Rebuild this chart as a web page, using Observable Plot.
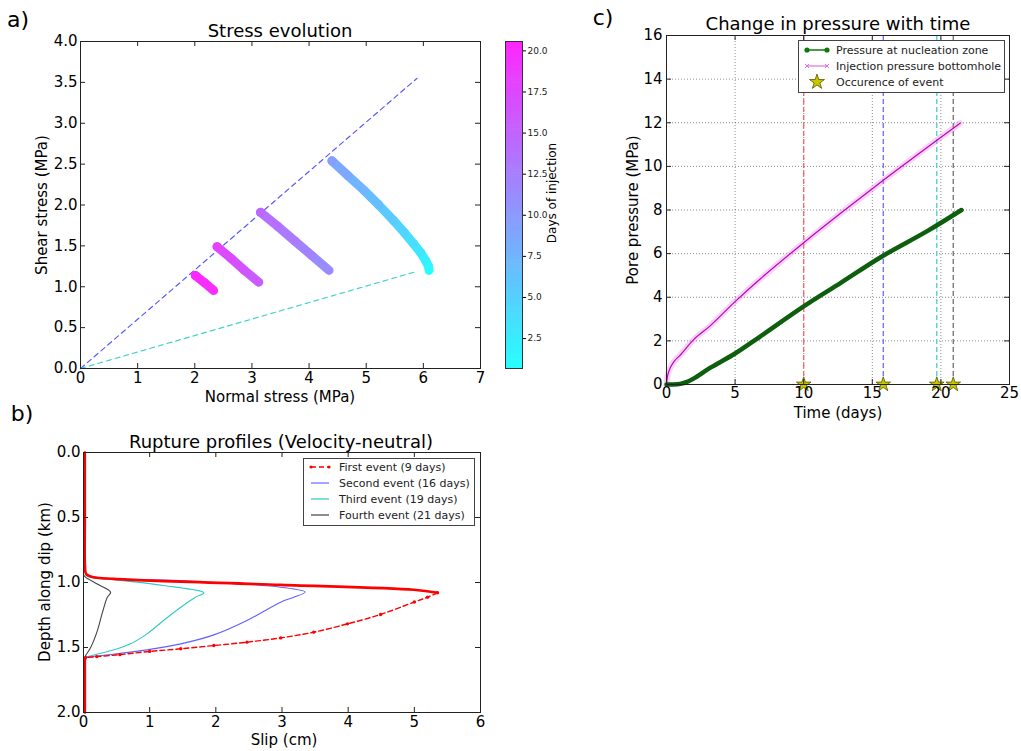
<!DOCTYPE html>
<html><head><meta charset="utf-8">
<script src="https://cdn.jsdelivr.net/npm/d3@7"></script>
<script src="https://cdn.jsdelivr.net/npm/@observablehq/plot@0.6"></script>
<style>
body{margin:0;background:#fff;font-family:"DejaVu Sans",sans-serif;}
#root{position:relative;width:1021px;height:751px;overflow:hidden;background:#fff;color:#000;}
#root svg{background:transparent !important;max-width:none !important;}
</style></head><body><div id="root"></div>
<script>
// ---------- Panel a: stress evolution ----------
const stressSeg    = ["s1","s1","s1","s1","s1","s1","s1","s1","s1","s1","s1",
                      "s2","s2","s2","s2","s2",
                      "s3","s3","s3","s3",
                      "s4","s4","s4"];
const stressNormal = [6.10,6.09,6.04,5.95,5.83,5.67,5.48,5.22,4.96,4.68,4.40,
                      4.35,4.05,3.75,3.45,3.15,
                      3.12,2.87,2.63,2.39,
                      2.33,2.17,2.01];
const stressShear  = [1.20,1.25,1.32,1.42,1.525,1.66,1.81,2.00,2.18,2.36,2.54,
                      1.20,1.38,1.56,1.74,1.91,
                      1.056,1.20,1.35,1.49,
                      0.954,1.05,1.138];
const stressDay    = [0.7,1.4,2.1,2.9,3.7,4.6,5.5,6.6,7.6,8.6,9.6,
                      11.2,12.0,12.9,13.8,14.6,
                      15.6,16.5,17.4,18.2,
                      19.7,20.15,20.6];
const peakLineNormal = [0, 5.89];   // upper dashed envelope
const peakLineShear  = [0, 3.55];
const resLineNormal  = [0, 5.85];   // lower dashed envelope
const resLineShear   = [0, 1.18];
const aXTicks = [0,1,2,3,4,5,6,7];
const aYTicks = [0,0.5,1,1.5,2,2.5,3,3.5,4];
const cbDomain = [0.68, 20.57];
const cbTicks = [2.5,5,7.5,10,12.5,15,17.5,20];

// ---------- Panel b: rupture profiles ----------
const firstDepth  = [0.0,0.5,0.90,0.935,0.955,0.972,1.018,1.056,1.079,1.113,1.15,1.246,1.318,1.382,1.426,1.459,1.485,1.51,1.53,1.555,1.57,1.578,1.6,2.0];
const firstSlip   = [0.02,0.02,0.025,0.04,0.12,0.46,2.98,4.99,5.35,5.2,5.0,4.49,3.99,3.48,2.98,2.47,1.97,1.47,1.0,0.55,0.2,0.03,0.02,0.02];
const secondDepth = [0.0,0.9,0.94,0.96,0.985,1.036,1.074,1.113,1.151,1.292,1.403,1.472,1.518,1.552,1.572,1.58,1.6,2.0];
const secondSlip  = [0.02,0.025,0.04,0.12,1.47,2.98,3.35,3.18,2.98,2.47,1.97,1.47,0.96,0.45,0.1,0.03,0.02,0.02];
const thirdDepth  = [0.94,0.96,0.979,1.023,1.079,1.113,1.19,1.292,1.395,1.472,1.518,1.552,1.572,1.58];
const thirdSlip   = [0.03,0.1,0.46,1.21,1.82,1.69,1.47,1.21,0.96,0.71,0.46,0.2,0.05,0.02];
const fourthDepth = [0.94,0.959,1.01,1.074,1.113,1.241,1.37,1.498,1.56,1.58];
const fourthSlip  = [0.0,0.03,0.2,0.41,0.36,0.28,0.21,0.11,0.035,0.02];
const eventNames  = ["First event (9 days)","Second event (16 days)","Third event (19 days)","Fourth event (21 days)"];
const bXTicks = [0,1,2,3,4,5,6];
const bYTicks = [0,0.5,1,1.5,2];

// ---------- Panel c: pressure with time ----------
const nuclTime  = [0,0.5,1.0,1.5,2.0,3.2,5.0,6.85,10.0,12.7,15.7,19.0,21.5];
const nuclPress = [0,0,0.03,0.12,0.28,0.77,1.42,2.21,3.58,4.66,5.87,7.03,8.0];
const injTime   = [0,0.1,0.3,0.6,1.0,2.0,3.2,5.0,6.85,10.0,12.9,15.8,18.7,21.4];
const injPress  = [0,0.45,0.8,1.1,1.35,2.07,2.7,3.8,4.85,6.5,7.95,9.36,10.73,11.98];
const eventDays = [10.0,15.8,19.7,20.9];
const cXTicks = [0,5,10,15,20,25];
const cYTicks = [0,2,4,6,8,10,12,14,16];
const legendC = ["Pressure at nucleation zone","Injection pressure bottomhole","Occurence of event"];

// ---------- styles ----------
const cool = ["#26ffff","#ff26ff"];
const eventColors = ["#ff0000","#4444ff","#30c8c8","#444444"];
const eventLineColors = ["#ff6060","#6a6aff","#40d0d0","#707070"];
const font = "DejaVu Sans";

const root = document.getElementById("root");
function place(el, left, top){ el.style.position="absolute"; el.style.left=left+"px"; el.style.top=top+"px"; root.appendChild(el); }
function label(txt, cx, cy, size, rot){
  const d=document.createElement("div");
  d.textContent=txt;
  d.style.cssText=`position:absolute;left:${cx}px;top:${cy}px;font-size:${size}px;line-height:1;white-space:nowrap;transform:translate(-50%,-50%)${rot?` rotate(${rot}deg)`:""};`;
  root.appendChild(d);
}
function frameTicks(xt, yt, xa, xb, ya, yb, pw, ph, len=5){
  const fx=(xb-xa)*len/pw, fy=(yb-ya)*len/ph;
  const o={stroke:"#222", strokeWidth:1};
  return [
    Plot.ruleX(xt,{x:d=>d,y1:ya,y2:ya+fy,...o}),
    Plot.ruleX(xt,{x:d=>d,y1:yb,y2:yb-fy,...o}),
    Plot.ruleY(yt,{y:d=>d,x1:xa,x2:xa+fx,...o}),
    Plot.ruleY(yt,{y:d=>d,x1:xb,x2:xb-fx,...o})
  ];
}
const baseStyle = {fontFamily:font, fontSize:"15px", color:"#000", background:"transparent"};

// ----- Panel a -----
const stressRows = stressDay.map((d,i)=>({seg:stressSeg[i], x:stressNormal[i], y:stressShear[i], day:d}));
const peakRows = peakLineNormal.map((x,i)=>({x, y:peakLineShear[i]}));
const resRows = resLineNormal.map((x,i)=>({x, y:resLineShear[i]}));
const plotA = Plot.plot({
  width:500, height:410, marginLeft:80, marginRight:20, marginTop:41, marginBottom:42,
  style: baseStyle,
  x:{domain:[0,7]}, y:{domain:[0,4]},
  color:{type:"linear", domain:cbDomain, range:cool, interpolate:"rgb"},
  marks:[
    Plot.line(peakRows,{x:"x",y:"y",stroke:"#5a5aff",strokeWidth:1.2,strokeDasharray:"5,4"}),
    Plot.line(resRows,{x:"x",y:"y",stroke:"#45d0d0",strokeWidth:1.2,strokeDasharray:"5,4"}),
    Plot.line(stressRows,{x:"x",y:"y",z:"seg",stroke:"day",strokeWidth:9,strokeLinecap:"round",strokeLinejoin:"round"}),
    ...frameTicks(aXTicks, aYTicks, 0,7, 0,4, 400,327),
    Plot.frame({stroke:"#222"}),
    Plot.axisX({ticks:aXTicks, tickSize:0, tickPadding:4, tickFormat:"d", label:null}),
    Plot.axisY({ticks:aYTicks, tickSize:0, tickPadding:3, tickFormat:".1f", label:null})
  ]
});
place(plotA, 0, 0);

// ----- Colorbar -----
const cbStep = (cbDomain[1]-cbDomain[0])/160;
const cbCells = d3.range(cbDomain[0], cbDomain[1], cbStep);
const plotCB = Plot.plot({
  width:80, height:410, marginLeft:15, marginRight:48, marginTop:41, marginBottom:42,
  style:{...baseStyle, fontSize:"9px"},
  x:{domain:[0,1], axis:null}, y:{domain:cbDomain},
  color:{type:"linear", domain:cbDomain, range:cool, interpolate:"rgb"},
  marks:[
    Plot.rect(cbCells,{x1:0,x2:1,y1:d=>d,y2:d=>Math.min(cbDomain[1],d+cbStep*1.3),fill:d=>d+cbStep/2}),
    Plot.frame({stroke:"#333"}),
    Plot.axisY({anchor:"right", ticks:cbTicks, tickSize:3, tickPadding:2, tickFormat:".1f", label:null, fill:"#222"})
  ]
});
place(plotCB, 490, 0);

// ----- Panel b -----
const mk = (depths, slips, ev) => depths.map((d,i)=>({ev, depth:d, slip:slips[i], i}));
const firstRows  = mk(firstDepth, firstSlip, eventNames[0]);
const secondRows = mk(secondDepth, secondSlip, eventNames[1]);
const thirdRows  = mk(thirdDepth, thirdSlip, eventNames[2]);
const fourthRows = mk(fourthDepth, fourthSlip, eventNames[3]);
const peakIdx = d3.maxIndex(firstSlip);
const tailIdx = firstDepth.findIndex((d,i)=>i>peakIdx && firstSlip[i]<0.05);
const firstUpper = firstRows.filter(r=>r.i<=peakIdx);
const firstReturn = firstRows.filter(r=>r.i>=peakIdx && r.i<=tailIdx);
const firstTail = firstRows.filter(r=>r.i>=tailIdx);
const plotB = Plot.plot({
  width:500, height:341, marginLeft:83, marginRight:20, marginTop:42, marginBottom:39,
  style: baseStyle,
  x:{domain:[0,6]}, y:{domain:[0,2], reverse:true},
  marks:[
    Plot.line(fourthRows,{x:"slip",y:"depth",stroke:eventColors[3],strokeWidth:1.1,curve:"catmull-rom"}),
    Plot.line(thirdRows,{x:"slip",y:"depth",stroke:eventColors[2],strokeWidth:1.1,curve:"catmull-rom"}),
    Plot.line(secondRows,{x:"slip",y:"depth",stroke:eventColors[1],strokeWidth:1.1,strokeOpacity:0.85,curve:"catmull-rom"}),
    Plot.line(firstUpper,{x:"slip",y:"depth",stroke:eventColors[0],strokeWidth:2.6,curve:"catmull-rom"}),
    Plot.line(firstTail,{x:"slip",y:"depth",stroke:eventColors[0],strokeWidth:2.6}),
    Plot.line(firstReturn,{x:"slip",y:"depth",stroke:eventColors[0],strokeWidth:1.4,strokeDasharray:"5,3",curve:"catmull-rom"}),
    Plot.dot(firstReturn,{x:"slip",y:"depth",fill:eventColors[0],r:1.7}),
    ...frameTicks(bXTicks, bYTicks, 0,6, 2,0, 397,260),
    Plot.frame({stroke:"#222"}),
    Plot.axisX({ticks:bXTicks, tickSize:0, tickPadding:4, tickFormat:"d", label:null}),
    Plot.axisY({ticks:bYTicks, tickSize:0, tickPadding:3, tickFormat:".1f", label:null})
  ]
});
place(plotB, 0, 410);

// ----- Panel c -----
const nuclRows = nuclTime.map((t,i)=>({t, p:nuclPress[i]}));
const injRows = injTime.map((t,i)=>({t, p:injPress[i]}));
const evRows = eventDays.map((d,i)=>({d, i}));
const plotC = Plot.plot({
  width:431, height:420, marginLeft:76, marginRight:12, marginTop:35, marginBottom:36,
  style: baseStyle,
  x:{domain:[0,25]}, y:{domain:[0,16]},
  marks:[
    Plot.gridX(cXTicks,{stroke:"#000",strokeOpacity:0.45,strokeDasharray:"1,2"}),
    Plot.gridY(cYTicks,{stroke:"#000",strokeOpacity:0.45,strokeDasharray:"1,2"}),
    ...evRows.map(e=>Plot.ruleX([e.d],{stroke:eventLineColors[e.i],strokeWidth:1.3,strokeDasharray:"5,3"})),
    Plot.line(injRows,{x:"t",y:"p",stroke:"#e080e0",strokeWidth:6,strokeOpacity:0.35,curve:"catmull-rom"}),
    Plot.line(injRows,{x:"t",y:"p",stroke:"#c000c0",strokeWidth:1.2,curve:"catmull-rom"}),
    Plot.line(nuclRows,{x:"t",y:"p",stroke:"#0d5f0d",strokeWidth:4.5,curve:"catmull-rom"}),
    Plot.dot(evRows,{x:"d",y:0,symbol:"star",r:4.6,fill:"#c8c800",stroke:"#555500",strokeWidth:0.8}),
    ...frameTicks(cXTicks, cYTicks, 0,25, 0,16, 343,349),
    Plot.frame({stroke:"#222"}),
    Plot.axisX({ticks:cXTicks, tickSize:0, tickPadding:3, tickFormat:"d", label:null}),
    Plot.axisY({ticks:cYTicks, tickSize:0, tickPadding:4, tickFormat:"d", label:null})
  ]
});
place(plotC, 590, 0);

// ----- Texts -----
label("a)", 18, 20, 22);
label("b)", 22, 414, 22);
label("c)", 603, 18, 22);
label("Stress evolution", 280, 31, 18);
label("Rupture profiles (Velocity-neutral)", 281, 442, 18);
label("Change in pressure with time", 838, 24, 18);
label("Normal stress (MPa)", 280, 397, 15);
label("Shear stress (MPa)", 42, 205, 15, -90);
label("Slip (cm)", 284, 740, 15);
label("Depth along dip (km)", 45, 582, 15, -90);
label("Time (days)", 838, 413, 15);
label("Pore pressure (MPa)", 633, 210, 15, -90);
label("Days of injection", 552, 193, 12, -90);

// ----- Legends -----
function legendBox(left, top, w, h, rows, rowH, firstY){
  const box=document.createElement("div");
  box.style.cssText=`position:absolute;left:${left}px;top:${top}px;width:${w}px;height:${h}px;border:1px solid #444;background:#fff;box-sizing:border-box;font-size:11px;`;
  rows.forEach((r,i)=>{
    const row=document.createElement("div");
    row.style.cssText=`position:absolute;left:0;top:${firstY+i*rowH-8}px;height:16px;display:flex;align-items:center;white-space:nowrap;`;
    row.innerHTML=`<svg width="${r.sw||30}" height="16" style="display:block;margin-left:4px">${r.swatch}</svg><span style="margin-left:${r.gap||5}px;color:#222">${r.text}</span>`;
    box.appendChild(row);
  });
  root.appendChild(box);
}
legendBox(303,458,172,68,[
  {text:eventNames[0], swatch:`<line x1="3" y1="8" x2="21" y2="8" stroke="${eventColors[0]}" stroke-width="1.5" stroke-dasharray="5,3"/><circle cx="3" cy="8" r="1.6" fill="${eventColors[0]}"/><circle cx="21" cy="8" r="1.6" fill="${eventColors[0]}"/>`},
  {text:eventNames[1], swatch:`<line x1="3" y1="8" x2="21" y2="8" stroke="${eventColors[1]}" stroke-width="1.2" stroke-opacity="0.8"/>`},
  {text:eventNames[2], swatch:`<line x1="3" y1="8" x2="21" y2="8" stroke="${eventColors[2]}" stroke-width="1.2"/>`},
  {text:eventNames[3], swatch:`<line x1="3" y1="8" x2="21" y2="8" stroke="${eventColors[3]}" stroke-width="1.2"/>`}
].map(r=>({...r, sw:26})), 16, 8);
const starPath = d3.symbol(d3.symbolStar, 70)();
legendBox(798,40,207,53,[
  {text:legendC[0], swatch:`<line x1="4" y1="8" x2="24" y2="8" stroke="#0d7a0d" stroke-width="1.5"/><circle cx="4" cy="8" r="2.6" fill="#0d7a0d"/><circle cx="24" cy="8" r="2.6" fill="#0d7a0d"/>`},
  {text:legendC[1], swatch:`<line x1="4" y1="8" x2="24" y2="8" stroke="#e070e0" stroke-width="1.2"/><path d="M2,6L6,10M6,6L2,10M22,6L26,10M26,6L22,10" stroke="#e070e0" stroke-width="1"/>`},
  {text:legendC[2], swatch:`<path transform="translate(14,8)" d="${starPath}" fill="#c8c800" stroke="#555500" stroke-width="0.8"/>`}
].map(r=>({...r, sw:28, gap:5})), 16, 9);
</script>
</body></html>
